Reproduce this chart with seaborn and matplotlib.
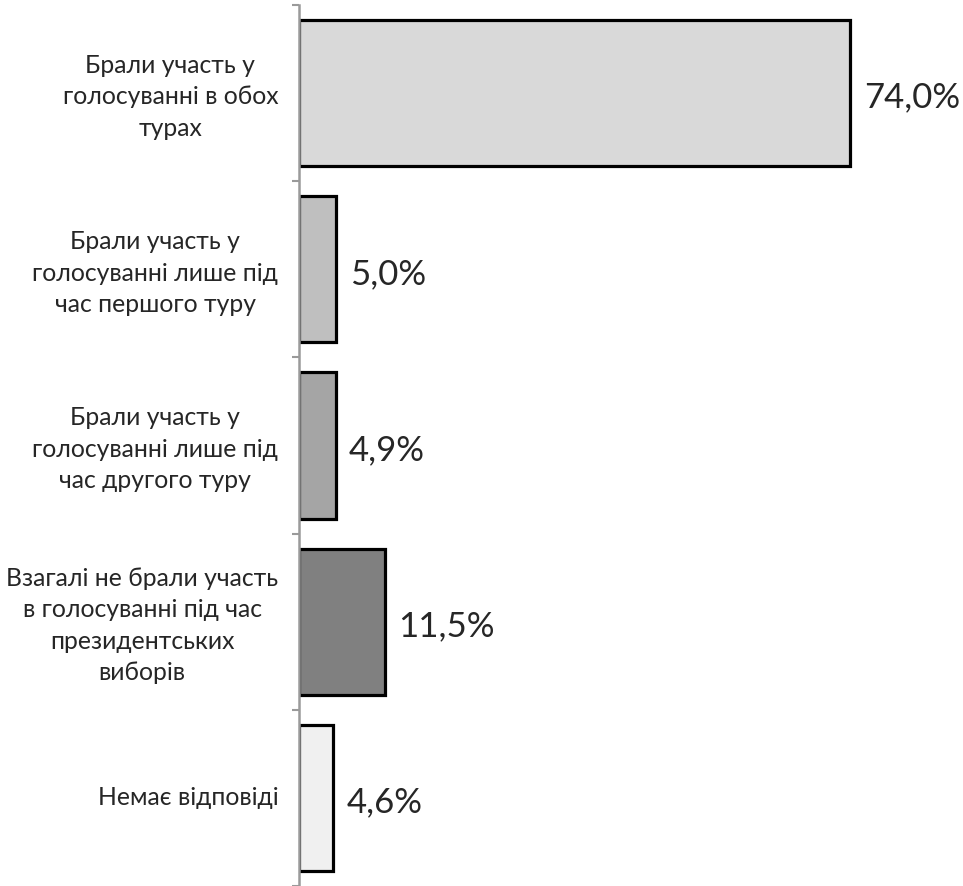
import matplotlib
matplotlib.use("Agg")
import matplotlib.pyplot as plt
import seaborn as sns
import pandas as pd
import numpy as np

categories = [
    "Брали участь у\nголосуванні в обох\nтурах",
    "Брали участь у\nголосуванні лише під\nчас першого туру",
    "Брали участь у\nголосуванні лише під\nчас другого туру",
    "Взагалі не брали участь\nв голосуванні під час\nпрезидентських\nвиборів",
    "Немає відповіді",
]
values = [74.0, 5.0, 4.9, 11.5, 4.6]
value_labels = ["74,0%", "5,0%", "4,9%", "11,5%", "4,6%"]
colors = ["#d9d9d9", "#bfbfbf", "#a5a5a5", "#808080", "#f0f0f0"]

sns.set_style("white")
plt.rcParams['font.family'] = ['Lato', 'DejaVu Sans']

df = pd.DataFrame({"cat": categories, "val": values})

fig = plt.figure(figsize=(9.63, 8.87), dpi=100)
ax = fig.add_axes([0.3105, 0.0, 0.66, 0.9932])

sns.barplot(data=df, x="val", y="cat", hue="cat", palette=colors,
            orient="h", width=0.83, edgecolor="black", linewidth=2.3,
            legend=False, ax=ax)

for i, (v, lbl) in enumerate(zip(values, value_labels)):
    ax.text(v + 1.8, i + 0.02, lbl, va="center", ha="left", fontsize=25)

ax.set_xlim(0, 85.3)
ax.set_ylim(4.5, -0.5)
ax.set_xlabel("")
ax.set_ylabel("")
ax.set_xticks([])

for s in ["top", "right", "bottom"]:
    ax.spines[s].set_visible(False)
ax.spines["left"].set_color("#9a9a9a")
ax.spines["left"].set_linewidth(1.8)

ax.set_yticks(np.arange(len(categories)) - 0.02)
ax.set_yticklabels(categories, ha="right", multialignment="center",
                   fontsize=17.8, linespacing=1.45)
ax.tick_params(axis="y", which="major", length=0, pad=15)
ax.set_yticks(np.arange(-0.5, 5.0, 1.0), minor=True)
ax.tick_params(axis="y", which="minor", length=5, width=1.5, color="#9a9a9a",
               left=True)

fig.savefig("out.png", dpi=100)
